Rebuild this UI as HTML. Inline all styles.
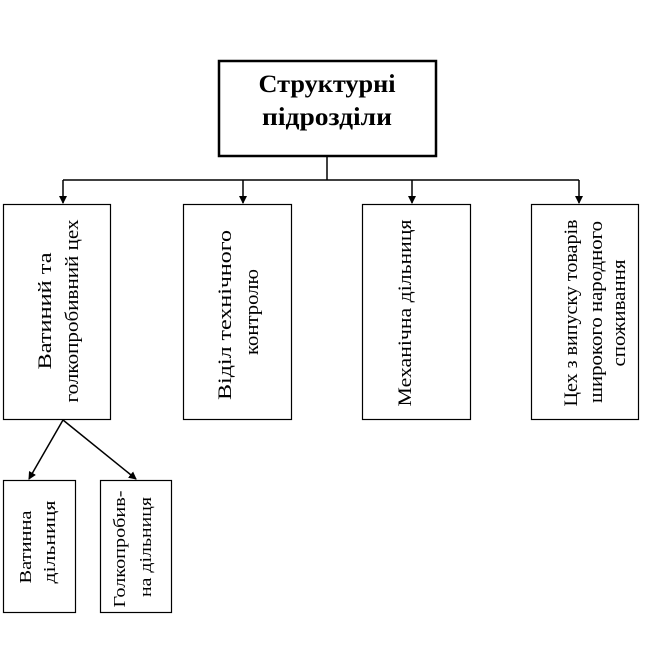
<!DOCTYPE html>
<html><head><meta charset="utf-8"><style>body{margin:0;background:#fff}svg{display:block}</style></head>
<body>
<svg width="663" height="648" viewBox="0 0 663 648" xmlns="http://www.w3.org/2000/svg" font-family="'Liberation Serif', serif" fill="#000">
<defs><marker id="a" markerWidth="8" markerHeight="8" refX="7" refY="4" orient="auto" markerUnits="userSpaceOnUse"><path d="M0,0 L8,4 L0,8 z"/></marker></defs>
<rect x="219" y="61" width="217" height="95" fill="none" stroke="#000" stroke-width="2.5"/>
<text x="327" y="92" font-size="25" font-weight="bold" text-anchor="middle" textLength="137" lengthAdjust="spacingAndGlyphs">Структурні</text>
<text x="327" y="125" font-size="25" font-weight="bold" text-anchor="middle" textLength="130" lengthAdjust="spacingAndGlyphs">підрозділи</text>
<g stroke="#000" stroke-width="1.5" fill="none">
<line x1="327" y1="157" x2="327" y2="180"/>
<line x1="63" y1="180" x2="579" y2="180"/>
<line x1="63" y1="180" x2="63" y2="203" marker-end="url(#a)"/>
<line x1="243" y1="180" x2="243" y2="203" marker-end="url(#a)"/>
<line x1="412" y1="180" x2="412" y2="203" marker-end="url(#a)"/>
<line x1="579" y1="180" x2="579" y2="203" marker-end="url(#a)"/>
<line x1="63" y1="420" x2="29" y2="479" marker-end="url(#a)"/>
<line x1="63" y1="420" x2="136" y2="479" marker-end="url(#a)"/>
</g>
<g fill="none" stroke="#000" stroke-width="1.2">
<rect x="3.5" y="204.5" width="107" height="215"/>
<rect x="183.5" y="204.5" width="108" height="215"/>
<rect x="362.5" y="204.5" width="108" height="215"/>
<rect x="531.5" y="204.5" width="107" height="215"/>
<rect x="3.5" y="480.5" width="72" height="132"/>
<rect x="100.5" y="480.5" width="71" height="132"/>
</g>
<g font-size="19">
<text transform="translate(51,311) rotate(-90)" text-anchor="middle" textLength="117" lengthAdjust="spacingAndGlyphs">Ватиний  та</text>
<text transform="translate(78,311) rotate(-90)" text-anchor="middle" textLength="183" lengthAdjust="spacingAndGlyphs">голкопробивний цех</text>
<text transform="translate(231,315) rotate(-90)" text-anchor="middle" textLength="170" lengthAdjust="spacingAndGlyphs">Віділ технічного</text>
<text transform="translate(258,312) rotate(-90)" text-anchor="middle" textLength="86" lengthAdjust="spacingAndGlyphs">контролю</text>
<text transform="translate(411,313) rotate(-90)" text-anchor="middle" textLength="187" lengthAdjust="spacingAndGlyphs">Механічна дільниця</text>
<text transform="translate(577,313) rotate(-90)" text-anchor="middle" textLength="187" lengthAdjust="spacingAndGlyphs">Цех з випуску товарів</text>
<text transform="translate(602,312) rotate(-90)" text-anchor="middle" textLength="182" lengthAdjust="spacingAndGlyphs">широкого народного</text>
<text transform="translate(625,313) rotate(-90)" text-anchor="middle" textLength="107" lengthAdjust="spacingAndGlyphs">споживання</text>
</g>
<g font-size="17">
<text transform="translate(31,547) rotate(-90)" text-anchor="middle" textLength="73" lengthAdjust="spacingAndGlyphs">Ватинна</text>
<text transform="translate(55,542) rotate(-90)" text-anchor="middle" textLength="83" lengthAdjust="spacingAndGlyphs">дільниця</text>
<text transform="translate(125,549) rotate(-90)" text-anchor="middle" textLength="117" lengthAdjust="spacingAndGlyphs">Голкопробив-</text>
<text transform="translate(151,547) rotate(-90)" text-anchor="middle" textLength="100" lengthAdjust="spacingAndGlyphs">на дільниця</text>
</g>
</svg>
</body></html>
